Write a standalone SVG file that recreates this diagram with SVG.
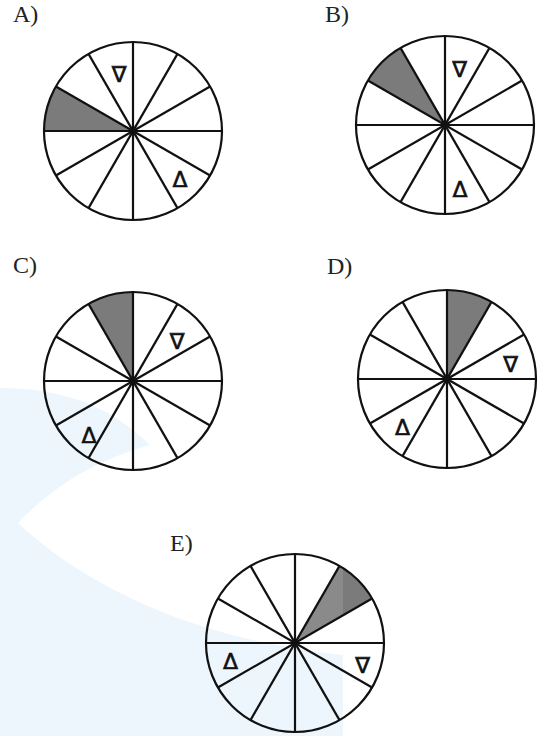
<svg xmlns="http://www.w3.org/2000/svg" xmlns:xlink="http://www.w3.org/1999/xlink" width="542" height="736" viewBox="0 0 542 736">
  <style>
    .rim { fill: none; stroke: #111; stroke-width: 2.2; }
    .spoke { stroke: #111; stroke-width: 2.2; }
    .shade { fill: #7b7b7b; stroke: none; }
    .shade-light { fill: #8a8a8a; stroke: none; }
    .label { font-family: "Liberation Serif", "Times New Roman", serif; font-size: 24px; fill: #222; }
    .sym { font-family: "DejaVu Sans", sans-serif; font-size: 22px; fill: #111; stroke: #111; stroke-width: 0.6; text-anchor: middle; }
  </style>
  <defs>
    <g id="wheel">
      <line class="spoke" x1="-89" y1="0" x2="89" y2="0"/>
      <line class="spoke" x1="-77.08" y1="44.5" x2="77.08" y2="-44.5"/>
      <line class="spoke" x1="-44.5" y1="77.08" x2="44.5" y2="-77.08"/>
      <line class="spoke" x1="0" y1="-89" x2="0" y2="89"/>
      <line class="spoke" x1="-44.5" y1="-77.08" x2="44.5" y2="77.08"/>
      <line class="spoke" x1="-77.08" y1="-44.5" x2="77.08" y2="44.5"/>
      <circle class="rim" cx="0" cy="0" r="89"/>
    </g>
    <clipPath id="leftOf343">
      <rect x="0" y="0" width="343" height="736"/>
    </clipPath>
  </defs>

  <rect x="0" y="0" width="542" height="736" fill="#ffffff"/>
  <g id="background">
    <path fill="#eef6fd" d="M0,388 C60,388 110,405 150,445 L343,445 L343,736 L0,736 Z"/>
    <path fill="#ffffff" d="M18,523 C70,468 140,438 230,432 L343,430 L343,655 C200,640 90,590 18,523 Z"/>
  </g>

  <g id="option-A">
    <text class="label" x="13" y="22">A)</text>
    <path class="shade" d="M133,131 L55.92,86.5 A89,89 0 0,0 44,131 Z"/>
    <use href="#wheel" x="133" y="131"/>
    <text class="sym" x="119" y="81.5">∇</text>
    <text class="sym" x="180" y="187">Δ</text>
  </g>

  <g id="option-B">
    <text class="label" x="325" y="22">B)</text>
    <path class="shade" d="M445,125 L400.5,47.92 A89,89 0 0,0 367.92,80.5 Z"/>
    <use href="#wheel" x="445" y="125"/>
    <text class="sym" x="459.5" y="76.5">∇</text>
    <text class="sym" x="460" y="197">Δ</text>
  </g>

  <g id="option-C">
    <text class="label" x="13" y="273">C)</text>
    <path class="shade" d="M133,381 L133,292 A89,89 0 0,0 88.5,303.92 Z"/>
    <use href="#wheel" x="133" y="381"/>
    <text class="sym" x="177" y="349">∇</text>
    <text class="sym" x="89" y="442.5">Δ</text>
  </g>

  <g id="option-D">
    <text class="label" x="327" y="274">D)</text>
    <path class="shade" d="M447,379 L491.5,301.92 A89,89 0 0,0 447,290 Z"/>
    <use href="#wheel" x="447" y="379"/>
    <text class="sym" x="510.5" y="371.5">∇</text>
    <text class="sym" x="402.5" y="435">Δ</text>
  </g>

  <g id="option-E">
    <text class="label" x="170" y="551">E)</text>
    <path class="shade" d="M295,643 L372.08,598.5 A89,89 0 0,0 339.5,565.92 Z"/>
    <path class="shade-light" clip-path="url(#leftOf343)" d="M295,643 L372.08,598.5 A89,89 0 0,0 339.5,565.92 Z"/>
    <use href="#wheel" x="295" y="643"/>
    <text class="sym" x="362.5" y="672.5">∇</text>
    <text class="sym" x="230.5" y="669">Δ</text>
  </g>
</svg>
